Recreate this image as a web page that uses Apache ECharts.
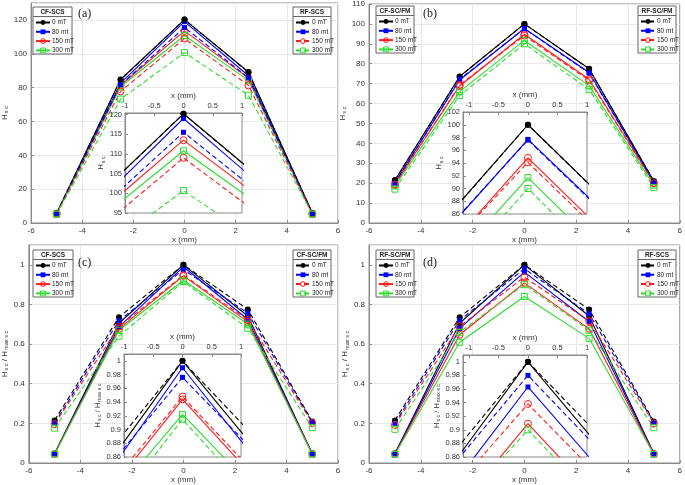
<!DOCTYPE html>
<html><head><meta charset="utf-8">
<script src="https://cdn.jsdelivr.net/npm/echarts@6/dist/echarts.min.js"></script>
<style>html,body{margin:0;padding:0;background:#fff}#c{width:685px;height:485px}</style>
</head><body><div id="c"></div>
<script>
// ---------- DATA ----------
const xPositions = [-5, -2.5, 0, 2.5, 5];
const fieldNames = ['0 mT', '80 mt', '150 mT', '300 mT'];
const mainXTicks = [-6, -4, -2, 0, 2, 4, 6];
const insetXTicks = [-1, -0.5, 0, 0.5, 1];
const insetYTicksA = [95, 100, 105, 110, 115, 120];
const insetYTicksB = [86, 88, 90, 92, 94, 96, 98, 100, 102];
const insetYTicksCD = [0.86, 0.88, 0.9, 0.92, 0.94, 0.96, 0.98, 1];

// (a) CF-SCS (solid) / RF-SCS (dashed)
const aSolid = [
  [5.8, 84.8, 120.2, 89.2, 5.8],
  [5.6, 82.6, 119.0, 87.0, 5.6],
  [5.4, 81.4, 113.5, 85.6, 5.4],
  [5.3, 80.5, 110.8, 84.3, 5.3]
];
const aDashed = [
  [5.8, 84.6, 120.2, 89.0, 5.8],
  [5.6, 81.6, 115.5, 85.8, 5.6],
  [5.4, 77.8, 109.0, 81.3, 5.4],
  [5.2, 73.2, 100.7, 75.5, 5.2]
];
// (b) CF-SC/FM (solid) / RF-SC/FM (dashed)
const bSolid = [
  [21.5, 73.6, 100.0, 77.5, 21.0],
  [20.2, 71.8, 97.7, 75.6, 20.6],
  [19.6, 68.8, 94.8, 72.2, 20.2],
  [18.6, 66.0, 91.7, 69.0, 19.0]
];
const bDashed = [
  [21.5, 73.5, 100.0, 77.4, 21.0],
  [20.0, 72.2, 97.6, 75.3, 20.4],
  [19.2, 69.4, 94.1, 71.6, 20.0],
  [17.0, 64.0, 90.0, 67.0, 17.8]
];
// (c) CF-SCS (solid) / CF-SC/FM (dashed), normalised
const cSolid = [
  [0.048, 0.705, 1.0, 0.742, 0.048],
  [0.047, 0.687, 0.99, 0.724, 0.047],
  [0.045, 0.677, 0.944, 0.712, 0.045],
  [0.044, 0.670, 0.922, 0.701, 0.044]
];
const cDashed = [
  [0.215, 0.736, 1.0, 0.775, 0.21],
  [0.202, 0.718, 0.976, 0.756, 0.206],
  [0.196, 0.688, 0.948, 0.722, 0.202],
  [0.176, 0.64, 0.915, 0.68, 0.178]
];
// (d) RF-SC/FM (solid) / RF-SCS (dashed), normalised
const dSolid = [
  [0.048, 0.705, 1.0, 0.742, 0.048],
  [0.047, 0.679, 0.963, 0.714, 0.047],
  [0.045, 0.647, 0.909, 0.677, 0.045],
  [0.043, 0.609, 0.84, 0.629, 0.043]
];
const dDashed = [
  [0.215, 0.735, 1.0, 0.775, 0.21],
  [0.2, 0.72, 0.98, 0.753, 0.204],
  [0.192, 0.69, 0.938, 0.716, 0.2],
  [0.17, 0.66, 0.90, 0.67, 0.178]
];
const panelLabels = ['(a)', '(b)', '(c)', '(d)'];
const legendTitles = [['CF-SCS', 'RF-SCS'], ['CF-SC/FM', 'RF-SC/FM'], ['CF-SCS', 'CF-SC/FM'], ['RF-SC/FM', 'RF-SCS']];

// ---------- LAYOUT / STYLE ----------
const panelData = [[aSolid, aDashed], [bSolid, bDashed], [cSolid, cDashed], [dSolid, dDashed]];
const colors = ['#000000', '#0000ff', '#ff1a1a', '#2edc2e'];
const symbols = ['circle', 'rect', 'circle', 'rect'];
const hollow = [false, false, true, true];
const symSizes = [6, 5, 7, 6];
const mainGrids = [
  {left: 26, top: 3, width: 312, height: 220},
  {left: 369, top: 3, width: 312, height: 220},
  {left: 26, top: 245, width: 312, height: 221},
  {left: 369, top: 245, width: 312, height: 221}
];
const mainY = [{max: 130, interval: 20, lastLbl: false}, {max: 110, interval: 10, lastLbl: true},
               {max: 1.1, interval: 0.2, lastLbl: false}, {max: 1.1, interval: 0.2, lastLbl: false}];
const insetGrids = [
  {left: 125, top: 113, width: 117, height: 100},
  {left: 463, top: 112, width: 124, height: 102},
  {left: 124, top: 354, width: 117, height: 103},
  {left: 463, top: 355, width: 124, height: 102}
];
const insetR = [
  {xmin: -1, ymin: 95, ymax: 120.4, yt: insetYTicksA},
  {xmin: -1.1, ymin: 86, ymax: 102, yt: insetYTicksB},
  {xmin: -1, ymin: 0.86, ymax: 1.01, yt: insetYTicksCD},
  {xmin: -1.1, ymin: 0.86, ymax: 1.01, yt: insetYTicksCD}
];
const legendBoxes = [
  [{x: 33, y: 7, w: 39, h: 47}, {x: 293, y: 7, w: 38, h: 47}],
  [{x: 376, y: 6, w: 38, h: 47}, {x: 638, y: 6, w: 38, h: 47}],
  [{x: 33, y: 250, w: 40, h: 47}, {x: 293, y: 250, w: 38, h: 47}],
  [{x: 376, y: 250, w: 38, h: 47}, {x: 638, y: 250, w: 38, h: 47}]
];
const labelPos = [[78, 8], [423, 8], [78, 257], [423, 257]];
const FONT = 'Liberation Sans';
const TXT = '#333';
const AX = '#8a8a8a';
const yNames = ['{n|H}{s|s c}', '{n|H}{s|s c}', '{n|H}{s|s c}{n| / H}{s|max s c}', '{n|H}{s|s c}{n| / H}{s|max s c}'];
const richName = (fs) => ({
  n: {fontSize: fs, color: TXT, fontFamily: FONT},
  s: {fontSize: fs * 0.7, color: TXT, fontFamily: FONT, padding: [fs * 0.45, 0, 0, 1]}
});
const symbolItemStyle = (k) => hollow[k]
  ? {color: 'rgba(255,255,255,0)', borderColor: colors[k], borderWidth: 1}
  : {color: colors[k], borderColor: colors[k], borderWidth: 0};

const grids = [], xAxes = [], yAxes = [], series = [], legends = [], graphics = [];

for (let p = 0; p < 4; p++) {
  grids.push(Object.assign({show: true, borderColor: AX, borderWidth: 1, backgroundColor: 'transparent', containLabel: false}, mainGrids[p]));
}
for (let p = 0; p < 4; p++) {
  grids.push(Object.assign({show: true, borderColor: AX, borderWidth: 1, backgroundColor: '#ffffff', z: 3, containLabel: false}, insetGrids[p]));
}

for (let p = 0; p < 4; p++) {
  xAxes.push({
    type: 'value', gridIndex: p, min: -6, max: 6, interval: 2,
    axisLine: {show: true, onZero: false, lineStyle: {color: AX, width: 1}},
    axisTick: {show: true, inside: true, length: 3, lineStyle: {color: AX}},
    axisLabel: {fontSize: 8, color: TXT, margin: 4, fontFamily: FONT},
    splitLine: {show: true, lineStyle: {color: '#e9e9e9', width: 1}},
    name: 'x (mm)', nameLocation: 'middle', nameGap: 13,
    nameTextStyle: {fontSize: 8, color: TXT, fontFamily: FONT}
  });
  yAxes.push({
    type: 'value', gridIndex: p, min: 0, max: mainY[p].max, interval: mainY[p].interval,
    axisLine: {show: true, onZero: false, lineStyle: {color: AX, width: 1}},
    axisTick: {show: true, inside: true, length: 3, lineStyle: {color: AX}},
    axisLabel: {fontSize: 8, color: TXT, margin: 4, fontFamily: FONT, showMaxLabel: mainY[p].lastLbl},
    splitLine: {show: true, lineStyle: {color: '#e9e9e9', width: 1}},
    name: yNames[p], nameLocation: 'middle', nameGap: 16, nameRotate: 90,
    nameTextStyle: {rich: richName(8)}
  });
}
for (let p = 0; p < 4; p++) {
  const r = insetR[p];
  xAxes.push({
    type: 'value', gridIndex: 4 + p, position: 'top', min: r.xmin, max: 1, z: 4,
    axisLine: {show: true, onZero: false, lineStyle: {color: AX, width: 1}},
    axisTick: {show: true, inside: true, length: 3, lineStyle: {color: AX}, customValues: insetXTicks},
    axisLabel: {fontSize: 7.5, color: TXT, margin: 3, fontFamily: FONT, customValues: insetXTicks},
    splitLine: {show: false},
    name: 'x (mm)', nameLocation: 'middle', nameGap: 13,
    nameTextStyle: {fontSize: 8, color: TXT, fontFamily: FONT}
  });
  yAxes.push({
    type: 'value', gridIndex: 4 + p, min: r.ymin, max: r.ymax, z: 4,
    axisLine: {show: true, onZero: false, lineStyle: {color: AX, width: 1}},
    axisTick: {show: true, inside: true, length: 3, lineStyle: {color: AX}, customValues: r.yt},
    axisLabel: {fontSize: 7.5, color: TXT, margin: 3, fontFamily: FONT, customValues: r.yt},
    splitLine: {show: false},
    name: yNames[p], nameLocation: 'middle', nameGap: p >= 2 ? 20 : 17, nameRotate: 90,
    nameTextStyle: {rich: richName(7.5)}
  });
}

for (let p = 0; p < 4; p++) {
  for (let fam = 0; fam < 2; fam++) {
    const legendItems = [];
    for (let k = 0; k < 4; k++) {
      const name = 'p' + p + 'f' + fam + 'k' + k;
      legendItems.push({name: name, itemStyle: symbolItemStyle(k)});
      const data = xPositions.map((x, i) => [x, panelData[p][fam][k][i]]);
      const base = {
        type: 'line', name: name, data: data,
        symbol: symbols[k], symbolSize: symSizes[k], showSymbol: true,
        color: colors[k],
        lineStyle: {color: colors[k], width: 1.1, type: fam === 0 ? 'solid' : [5, 3]},
        itemStyle: symbolItemStyle(k),
        emphasis: {disabled: true}, animation: false, clip: true
      };
      series.push(Object.assign({}, base, {xAxisIndex: p, yAxisIndex: p, z: 2}));
      series.push(Object.assign({}, base, {xAxisIndex: 4 + p, yAxisIndex: 4 + p, z: 5}));
    }
    const b = legendBoxes[p][fam];
    legends.push({
      show: true, data: legendItems, orient: 'vertical', left: b.x + 2, top: b.y + 12,
      itemWidth: 14, itemHeight: 6, itemGap: 2.3, padding: 0, selectedMode: false, z: 12,
      formatter: (nm) => fieldNames[+nm.slice(-1)],
      textStyle: {fontSize: 6.5, color: '#222', fontFamily: FONT, padding: [0, 0, 0, -3]}
    });
    graphics.push({type: 'rect', shape: {x: b.x, y: b.y, width: b.w, height: b.h},
      style: {fill: '#fff', stroke: '#666', lineWidth: 1}, z: 10});
    graphics.push({type: 'line', shape: {x1: b.x, y1: b.y + 9.5, x2: b.x + b.w, y2: b.y + 9.5},
      style: {stroke: '#666', lineWidth: 1}, z: 10});
    graphics.push({type: 'text', x: b.x + b.w / 2, y: b.y + 5,
      style: {text: legendTitles[p][fam], fontSize: 6.5, fontWeight: 'bold', fill: '#222', fontFamily: FONT,
        textAlign: 'center', textVerticalAlign: 'middle'}, z: 11});
  }
  graphics.push({type: 'text', x: labelPos[p][0], y: labelPos[p][1],
    style: {text: panelLabels[p], fontSize: 12, fill: '#222', fontFamily: 'Liberation Serif'}, z: 11});
}

const chart = echarts.init(document.getElementById('c'), null, {renderer: 'canvas', width: 685, height: 485});
chart.setOption({
  animation: false,
  backgroundColor: '#ffffff',
  grid: grids, xAxis: xAxes, yAxis: yAxes, series: series, legend: legends, graphic: graphics
});
</script>
</body></html>
